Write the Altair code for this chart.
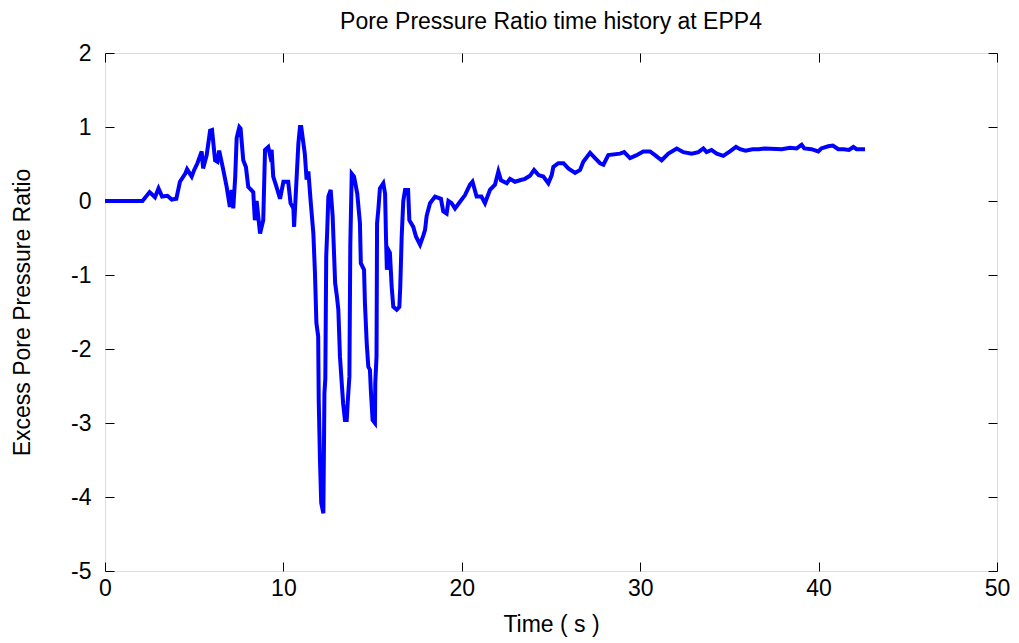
import altair as alt
import pandas as pd

time_s = [0, 2.1, 2.5, 2.8, 3.0, 3.2, 3.5, 3.74, 4.0, 4.2, 4.5, 4.6, 4.86, 5.0, 5.18, 5.42, 5.5, 5.7,
          5.89, 6.0, 6.17, 6.3, 6.4, 6.63, 6.82, 7.0, 7.1, 7.19, 7.3, 7.38, 7.53, 7.6, 7.75, 7.9, 8.03,
          8.31, 8.4, 8.5, 8.69, 8.87, 8.97, 9.15, 9.25, 9.34, 9.43, 9.6, 9.81, 10.0, 10.27, 10.4, 10.56,
          10.6, 10.84, 10.93, 11.0, 11.2, 11.3, 11.4, 11.53, 11.68, 11.77, 11.85, 11.95, 11.98, 12.05,
          12.12, 12.24, 12.3, 12.35, 12.4, 12.45, 12.52, 12.65, 12.76, 12.9, 13.0, 13.08, 13.17, 13.27,
          13.35, 13.45, 13.55, 13.6, 13.7, 13.75, 13.83, 13.96, 14.14, 14.29, 14.34, 14.52, 14.57, 14.67,
          14.76, 14.85, 14.9, 15.0, 15.13, 15.15, 15.22, 15.25, 15.32, 15.41, 15.6, 15.7, 15.75, 15.8,
          15.88, 15.97, 16.07, 16.16, 16.35, 16.5, 16.55, 16.63, 16.72, 16.82, 16.99, 17.06, 17.28, 17.43,
          17.66, 17.85, 17.94, 18.03, 18.22, 18.5, 18.83, 18.96, 19.15, 19.25, 19.43, 19.62, 19.9, 20.18,
          20.46, 20.6, 20.83, 21.1, 21.3, 21.58, 21.86, 22.05, 22.2, 22.52, 22.7, 22.98, 23.26, 23.54,
          23.82, 24.05, 24.3, 24.57, 24.85, 25.04, 25.13, 25.41, 25.7, 25.97, 26.35, 26.63, 26.81, 27.19,
          27.47, 27.75, 27.94, 28.21, 28.87, 29.1, 29.43, 29.8, 30.17, 30.55, 30.83, 31.2, 31.58, 32.05,
          32.42, 32.89, 33.26, 33.54, 33.72, 34.0, 34.29, 34.66, 35.03, 35.37, 35.6, 35.9, 36.3, 36.65,
          37.0, 37.93, 38.4, 38.77, 39.05, 39.2, 39.6, 39.98, 40.15, 40.54, 40.8, 41.1, 41.4, 41.7, 41.95,
          42.13, 42.6]

ratio = [0, 0, 0.12, 0.05, 0.17, 0.06, 0.07, 0.02, 0.03, 0.26, 0.37, 0.43, 0.33, 0.42, 0.51, 0.67, 0.44, 0.62,
         0.95, 0.96, 0.55, 0.53, 0.68, 0.42, 0.19, -0.08, 0.15, -0.1, 0.33, 0.85, 1.0, 0.98, 0.55, 0.46, 0.19,
         0.12, -0.26, 0.0, -0.44, -0.26, 0.69, 0.73, 0.62, 0.69, 0.33, 0.2, 0.03, 0.26, 0.26, -0.03, -0.1,
         -0.35, 0.78, 1.0, 1.0, 0.64, 0.29, 0.4, -0.01, -0.44, -0.98, -1.65, -1.83, -2.69, -3.5,
         -4.08, -4.22, -2.6, -2.4, -0.75, -0.44, 0.06, 0.15, -0.2, -1.11, -1.29, -1.47, -2.1, -2.46,
         -2.74, -2.96, -2.96, -2.74, -2.37, -0.6, 0.37, 0.33, 0.1, -0.3, -0.84, -0.93, -1.38, -1.92,
         -2.24, -2.28, -2.55, -2.96, -3.0, -2.46, -2.1, -0.3, -0.12, 0.17, 0.24, 0.1, -0.48, -0.93,
         -0.66, -0.7, -1.16, -1.43, -1.47, -1.43, -1.16, -0.48, 0.0, 0.15, 0.15, -0.26, -0.35, -0.48,
         -0.59, -0.46, -0.39, -0.2, -0.03, 0.06, 0.03, -0.14, -0.17, 0.0, -0.03, -0.1, -0.01, 0.08,
         0.22, 0.26, 0.06, 0.06, -0.03, 0.15, 0.22, 0.4, 0.28, 0.24, 0.3, 0.26, 0.28, 0.3,
         0.34, 0.42, 0.35, 0.33, 0.24, 0.35, 0.46, 0.51, 0.51, 0.44, 0.38, 0.42, 0.53, 0.65,
         0.58, 0.51, 0.49, 0.62, 0.64, 0.66, 0.58, 0.62, 0.67, 0.67, 0.62, 0.55, 0.64, 0.71,
         0.66, 0.64, 0.66, 0.71, 0.66, 0.69, 0.64, 0.61, 0.67, 0.73, 0.70, 0.68, 0.70, 0.70,
         0.71, 0.70, 0.72, 0.71, 0.76, 0.71, 0.70, 0.67, 0.71, 0.74, 0.75, 0.70, 0.70, 0.69, 0.73,
         0.70, 0.70]

x_ticks = [0, 10, 20, 30, 40, 50]
y_ticks = [-5, -4, -3, -2, -1, 0, 1, 2]

df = pd.DataFrame({"t": time_s, "r": ratio, "i": list(range(len(time_s)))})

W, H = 892, 518
FONT = "Liberation Sans"
FS = 23

xs = alt.Scale(domain=[0, 50], nice=False, zero=False)
ys = alt.Scale(domain=[-5, 2], nice=False, zero=False)

main = alt.Chart(df).mark_line(color="#0000FF", strokeWidth=4, strokeJoin="miter").encode(
    x=alt.X("t:Q", scale=xs, axis=alt.Axis(
        values=x_ticks, title="Time ( s )", orient="bottom", ticks=False, domain=False,
        labelExpr="'' + datum.value", labelFlush=False, labelOverlap=False,
        labelFont=FONT, labelFontSize=FS, labelColor="black", labelPadding=6,
        titleFont=FONT, titleFontSize=FS, titleFontWeight="normal", titleColor="black", titlePadding=13,
        grid=False)),
    y=alt.Y("r:Q", scale=ys, axis=alt.Axis(
        values=y_ticks, title="Excess Pore Pressure Ratio", orient="left", ticks=False, domain=False,
        labelExpr="'' + datum.value", labelFlush=False, labelOverlap=False,
        labelFont=FONT, labelFontSize=FS, labelColor="black", labelPadding=14,
        titleFont=FONT, titleFontSize=FS, titleFontWeight="normal", titleColor="black", titlePadding=36,
        grid=False)),
    order="i:Q",
)

tick_common = dict(labels=False, title=None, domain=False, grid=False, tickSize=9,
                   tickColor="black", tickWidth=1)

ticks_a = alt.Chart(df).mark_line(opacity=0).encode(
    x=alt.X("t:Q", scale=xs, axis=alt.Axis(values=x_ticks, orient="top", offset=-H, **tick_common)),
    y=alt.Y("r:Q", scale=ys, axis=alt.Axis(values=y_ticks, orient="right", offset=-W, **tick_common)),
    order="i:Q",
)
ticks_b = alt.Chart(df).mark_line(opacity=0).encode(
    x=alt.X("t:Q", scale=xs, axis=alt.Axis(values=x_ticks, orient="bottom", offset=-H, **tick_common)),
    y=alt.Y("r:Q", scale=ys, axis=alt.Axis(values=y_ticks, orient="left", offset=-W, **tick_common)),
    order="i:Q",
)

chart = alt.layer(main, ticks_a, ticks_b).resolve_axis(x="independent", y="independent").properties(
    width=W, height=H,
    title=alt.TitleParams("Pore Pressure Ratio time history at EPP4", font=FONT, fontSize=23,
                          fontWeight="normal", color="black", offset=8),
    autosize=alt.AutoSizeParams(type="none"),
    padding={"left": 105, "top": 53, "right": 22, "bottom": 72},
).configure_view(stroke="black", strokeWidth=1.2).configure(background="white")

chart.save("out.html", embed_options={"renderer": "svg", "actions": False})
